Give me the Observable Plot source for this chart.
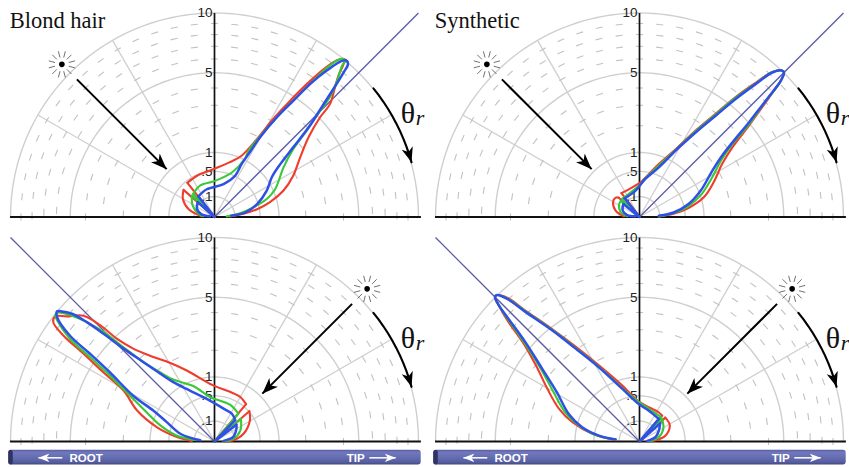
<!DOCTYPE html>
<html>
<head>
<meta charset="utf-8">
<script src="https://cdn.jsdelivr.net/npm/d3@7"></script>
<script src="https://cdn.jsdelivr.net/npm/@observablehq/plot@0.6"></script>
<style>
html,body{margin:0;padding:0;background:#fff;}
#stage{position:relative;width:849px;height:467px;overflow:hidden;}
#stage>div{position:absolute;}
svg{display:block;}
</style>
</head>
<body>
<div id="stage"></div>
<script>
// Radiance lobes, in the chart's plane: [sqrt(radiance)*sin(theta), sqrt(radiance)*cos(theta)]
const blondRedMain=[[.24,.01],[.45,.05],[.66,.12],[.86,.23],[1.07,.41],[1.22,.64],[1.33,.93],[1.46,1.24],[1.64,1.55],[1.79,1.75],[1.86,1.98],[1.92,2.19],[2,2.37],[2.01,2.45],[1.9,2.43],[1.69,2.29],[1.43,2.06],[1.17,1.8],[.91,1.52],[.66,1.21],[.42,.95],[.24,.85],[-.02,.74],[-.27,.64],[-.42,.53]];
const blondRedLobe=[[-.48,.42],[-.49,.28],[-.4,.12],[-.2,.01]];
const blondGreenMain=[[.19,.01],[.4,.06],[.6,.15],[.81,.28],[.94,.43],[1.07,.77],[1.22,1.05],[1.43,1.34],[1.64,1.65],[1.79,1.86],[1.9,2.11],[1.98,2.35],[2.04,2.43],[1.95,2.45],[1.79,2.35],[1.53,2.11],[1.28,1.86],[1.02,1.6],[.76,1.31],[.53,1.03],[.47,.9],[.27,.69],[.01,.56],[-.22,.49],[-.33,.36]];
const blondGreenLobe=[[-.35,.33],[-.34,.18],[-.25,.05],[-.17,.01]];
const blondBlueMain=[[.26,.02],[.48,.07],[.66,.2],[.81,.41],[.89,.62],[1.02,.82],[1.22,1.08],[1.46,1.39],[1.66,1.7],[1.84,1.98],[2,2.24],[2.07,2.37],[2.04,2.43],[1.95,2.41],[1.74,2.27],[1.48,2.06],[1.22,1.8],[.97,1.55],[.71,1.24],[.53,.98],[.42,.82],[.32,.64],[.14,.51],[-.12,.43],[-.25,.32]];
const blondBlueLobe=[[-.26,.23],[-.27,.12],[-.2,.04],[-.07,.01]];

const synthRedMain=[[.3,.01],[.53,.05],[.76,.14],[1,.31],[1.15,.54],[1.28,.82],[1.44,1.08],[1.7,1.42],[1.9,1.7],[2.08,1.95],[2.19,2.11],[2.24,2.24],[2.21,2.27],[2.06,2.25],[1.8,2.08],[1.49,1.86],[1.18,1.6],[.87,1.34],[.56,1.05],[.3,.82],[.09,.61],[.02,.54],[-.11,.46],[-.28,.37]];
const synthRedLobe=[[-.32,.3],[-.37,.3],[-.41,.23],[-.37,.1],[-.24,.01]];
const synthGreenMain=[[.3,.01],[.53,.06],[.76,.17],[.96,.35],[1.13,.62],[1.26,.87],[1.44,1.13],[1.7,1.44],[1.9,1.72],[2.08,1.955],[2.19,2.11],[2.24,2.24],[2.21,2.27],[2.06,2.25],[1.8,2.07],[1.49,1.85],[1.18,1.59],[.87,1.33],[.56,1.04],[.3,.8],[.09,.6],[.02,.51],[-.14,.38],[-.27,.28]];
const synthGreenLobe=[[-.29,.25],[-.32,.18],[-.29,.07],[-.19,.01]];
const synthBlueMain=[[.3,.02],[.53,.07],[.76,.2],[.95,.41],[1.13,.72],[1.28,.95],[1.46,1.18],[1.7,1.47],[1.9,1.73],[2.08,1.96],[2.19,2.11],[2.24,2.24],[2.21,2.27],[2.06,2.24],[1.8,2.06],[1.49,1.83],[1.18,1.57],[.87,1.31],[.56,1.03],[.3,.77],[.09,.59],[-.06,.41],[-.23,.29]];
const synthBlueLobe=[[-.25,.2],[-.26,.1],[-.19,.03],[-.06,.01]];

const blondLowRedMain=[[-.35,.01],[-.58,.07],[-.89,.22],[-1.2,.48],[-1.41,.79],[-1.72,1.07],[-2.03,1.36],[-2.34,1.64],[-2.5,1.85],[-2.47,1.94],[-2.29,1.94],[-2.03,1.95],[-1.77,1.8],[-1.51,1.59],[-1.26,1.44],[-1,1.33],[-.74,1.24],[-.43,1.1],[-.02,.87],[.24,.77],[.4,.69],[.49,.58]];
const blondLowRedLobe=[[.54,.47],[.55,.33],[.45,.12],[.29,.02],[.14,0]];
const blondLowGreenMain=[[-.27,.02],[-.58,.09],[-.84,.25],[-1.05,.45],[-1.31,.71],[-1.62,1.02],[-1.93,1.31],[-2.24,1.59],[-2.44,1.88],[-2.47,1.96],[-2.42,2],[-2.21,1.95],[-1.98,1.85],[-1.72,1.7],[-1.41,1.46],[-1.1,1.23],[-.84,1.07],[-.64,.96],[-.33,.86],[-.07,.69],[.24,.57],[.37,.43]];
const blondLowGreenLobe=[[.41,.35],[.4,.17],[.29,.04],[.14,0]];
const blondLowBlueMain=[[-.22,.02],[-.38,.06],[-.53,.12],[-.74,.3],[-.95,.48],[-1.26,.71],[-1.62,1.07],[-1.93,1.36],[-2.24,1.64],[-2.44,1.93],[-2.44,2.02],[-2.39,2.02],[-2.21,1.98],[-1.98,1.85],[-1.72,1.67],[-1.41,1.44],[-1.1,1.23],[-.84,1.05],[-.64,.92],[-.38,.79],[-.12,.66],[.14,.51],[.27,.43],[.32,.33]];
const blondLowBlueLobe=[[.34,.26],[.34,.2],[.29,.07],[.14,.01]];

const synthLowRedMain=[[-.37,.02],[-.73,.12],[-1.04,.3],[-1.25,.51],[-1.43,.82],[-1.59,1.15],[-1.79,1.51],[-2.05,1.88],[-2.18,2.11],[-2.24,2.24],[-2.21,2.27],[-2.05,2.23],[-1.77,2.03],[-1.35,1.74],[-.99,1.47],[-.63,1.18],[-.27,.87],[-.01,.62],[.3,.45],[.35,.4]];
const synthLowRedLobe=[[.4,.37],[.47,.25],[.4,.09],[.25,.02],[.12,0]];
const synthLowGreenMain=[[-.37,.03],[-.68,.1],[-.94,.25],[-1.15,.45],[-1.33,.76],[-1.53,1.13],[-1.77,1.51],[-2.03,1.88],[-2.18,2.11],[-2.24,2.24],[-2.21,2.27],[-2.05,2.22],[-1.77,2.02],[-1.35,1.73],[-.99,1.45],[-.63,1.16],[-.27,.83],[-.01,.61],[.14,.51],[.33,.38]];
const synthLowGreenLobe=[[.35,.35],[.37,.2],[.3,.07],[.14,0]];
const synthLowBlueMain=[[-.37,.03],[-.63,.09],[-.89,.22],[-1.1,.43],[-1.28,.76],[-1.51,1.13],[-1.77,1.54],[-2.03,1.9],[-2.18,2.11],[-2.24,2.24],[-2.21,2.27],[-2.05,2.21],[-1.77,2.01],[-1.35,1.72],[-.99,1.44],[-.63,1.15],[-.27,.82],[-.01,.58],[.14,.48],[.3,.35]];
const synthLowBlueLobe=[[.32,.28],[.3,.17],[.25,.07],[.12,.01]];

// Axis values
const ringValues=[10,5,1,.5,.1];
const ringLabels=["10","5","1",".5",".1"];
const spokeAngles=[-60,-30,30,60];
const dashValues=[9,8,7,6,4,3,2];
const dashSteps=[6,6.4,6.8,7.3,9,10.2,12.6];
const lobeColors=["#f03c2c","#38c838","#2f50e4"];
const titles=["Blond hair","Synthetic","",""];
const tipLabels=["ROOT","TIP"];

const unit=64.5; // pixels per unit of sqrt(radiance)
const polar=(deg,v)=>{const r=Math.sqrt(v),a=deg*Math.PI/180;return [r*Math.sin(a),r*Math.cos(a)];};
const arc=(a0,a1,v,s)=>d3.range(a0,a1+s/2,s).map(a=>polar(a,v));
const arcDeg=d3.range(-90,90.5,2);
const X=d=>d[0],Y=d=>d[1];

function headMarker(len){
  return (color)=>{
    const m=d3.create("svg:marker")
      .attr("viewBox","-6 -5 12 10").attr("refX",6).attr("refY",0)
      .attr("markerUnits","userSpaceOnUse")
      .attr("markerWidth",len).attr("markerHeight",len*10/12)
      .attr("orient","auto");
    m.append("path").attr("fill",color).attr("stroke","none").attr("d","M6,0L-6,-4.6L-2.6,0L-6,4.6Z");
    return m.node();
  };
}

function panel(i,width,height,cy,withBar,lightAngle,lobes){
  const cx=214;
  const xDomain=[-cx/unit,(width-cx)/unit];
  const yDomain=[-(height-cy)/unit,cy/unit];
  const gid="barGrad"+i;
  const marks=[];
  // rings, spokes, dashes
  for(const v of ringValues)
    marks.push(Plot.line(arcDeg.map(a=>polar(a,v)),{x:X,y:Y,stroke:"#cfcfcf",strokeWidth:1.4,curve:"linear"}));
  marks.push(Plot.link(spokeAngles,{x1:0,y1:0,x2:a=>polar(a,10)[0],y2:a=>polar(a,10)[1],stroke:"#cfcfcf",strokeWidth:1.3}));
  const dashes=[];
  dashValues.forEach((v,k)=>{
    const st=dashSteps[k];
    for(const sgn of [1,-1]) for(let a=(sgn>0?0:st);a<=90.01;a+=st){
      const ang=sgn*a,rad=ang*Math.PI/180,d=.055;
      const p=polar(ang,v);
      dashes.push([p[0]-d*Math.cos(rad),p[1]+d*Math.sin(rad),p[0]+d*Math.cos(rad),p[1]-d*Math.sin(rad)]);
    }
  });
  marks.push(Plot.link(dashes,{x1:d=>d[0],y1:d=>d[1],x2:d=>d[2],y2:d=>d[3],stroke:"#c2c2c2",strokeWidth:1.1}));
  // specular direction
  marks.push(Plot.link([lightAngle],{x1:0,y1:0,x2:a=>-polar(a,20)[0],y2:a=>polar(a,20)[1],stroke:"#5a5aa8",strokeWidth:1.25}));
  // axes
  marks.push(Plot.link([0],{x1:0,y1:0,x2:0,y2:Math.sqrt(10),stroke:"#111",strokeWidth:1.7}));
  marks.push(Plot.link([0],{x1:-3.17,y1:0,x2:3.2,y2:0,stroke:"#111",strokeWidth:2}));
  // tick labels
  marks.push(Plot.text(ringValues,{x:0,y:v=>Math.sqrt(v),text:(v,j)=>ringLabels[j],dx:-2,textAnchor:"end",lineAnchor:"middle",fontSize:13.5,fontFamily:"Liberation Sans",fill:"#222"}));
  // title
  if(titles[i]) marks.push(Plot.text([titles[i]],{x:-3.175,y:2.925,text:d=>d,textAnchor:"start",lineAnchor:"bottom",fontSize:22.5,fontFamily:"Liberation Serif",fill:"#111"}));
  // incoming light arrow
  const a0=polar(lightAngle,9.1),a1=polar(lightAngle,1.1);
  marks.push(Plot.link([0],{x1:a0[0],y1:a0[1],x2:a1[0],y2:a1[1],stroke:"#000",strokeWidth:2,markerEnd:headMarker(16)}));
  // sun
  const sun=polar(lightAngle,11.2);
  const rays=d3.range(15,360,30).map(a=>{const s=Math.sin(a*Math.PI/180),c=Math.cos(a*Math.PI/180);return [sun[0]+.11*s,sun[1]+.11*c,sun[0]+.21*s,sun[1]+.21*c];});
  marks.push(Plot.link(rays,{x1:d=>d[0],y1:d=>d[1],x2:d=>d[2],y2:d=>d[3],stroke:"#333",strokeWidth:.7}));
  marks.push(Plot.dot([sun],{x:X,y:Y,r:2.8,fill:"#000"}));
  // theta arc
  marks.push(Plot.line(arc(51,74.5,10.05,2.35),{x:X,y:Y,stroke:"#000",strokeWidth:2.1,curve:"linear",markerEnd:headMarker(15)}));
  marks.push(Plot.text(["θ"],{x:3,y:1.45,text:d=>d,textAnchor:"middle",lineAnchor:"bottom",fontSize:30,fontFamily:"Liberation Serif",fill:"#111"}));
  marks.push(Plot.text(["r"],{x:3.12,y:1.42,text:d=>d,textAnchor:"start",lineAnchor:"bottom",fontSize:22,fontStyle:"italic",fontFamily:"Liberation Serif",fill:"#111"}));
  // lobes
  lobes.forEach(([main,lobe],k)=>{
    const w=k===2?2.5:2.1,col=lobeColors[k];
    marks.push(Plot.line(main,{x:X,y:Y,stroke:col,strokeWidth:w,curve:"catmull-rom"}));
    marks.push(Plot.line([main[main.length-1],[0,0],lobe[0]],{x:X,y:Y,stroke:col,strokeWidth:w,curve:"linear"}));
    marks.push(Plot.line(lobe,{x:X,y:Y,stroke:col,strokeWidth:w,curve:"catmull-rom"}));
  });
  // root-tip bar
  if(withBar){
    marks.push(()=>{
      const defs=d3.create("svg:defs");
      const g=defs.append("linearGradient").attr("id",gid).attr("x1",0).attr("y1",0).attr("x2",0).attr("y2",1);
      [[0,"#565ca0"],[.18,"#7178bd"],[.55,"#646cb0"],[.85,"#555c9f"],[1,"#41477c"]].forEach(([o,c])=>g.append("stop").attr("offset",o).attr("stop-color",c));
      return defs.node();
    });
    marks.push(Plot.rect([0],{x1:-3.19,x2:3.205,y1:-.135,y2:-.365,fill:`url(#${gid})`,rx:3}));
    marks.push(Plot.rect([0],{x1:-3.19,x2:-3.12,y1:-.135,y2:-.365,fill:"#2f3462",rx:2.5}));
    marks.push(Plot.link([0],{x1:-2.36,y1:-.253,x2:-2.73,y2:-.253,stroke:"#fff",strokeWidth:1.5,markerEnd:headMarker(11)}));
    marks.push(Plot.link([0],{x1:2.4,y1:-.253,x2:2.81,y2:-.253,stroke:"#fff",strokeWidth:1.5,markerEnd:headMarker(11)}));
    marks.push(Plot.text(tipLabels,{x:(d,j)=>[-1.99,2.19][j],y:-.253,text:d=>d,textAnchor:"middle",lineAnchor:"middle",fontSize:11.5,fontWeight:"bold",fontFamily:"Liberation Sans",fill:"#fff"}));
  }
  return Plot.plot({
    width,height,margin:0,
    x:{domain:xDomain,range:[0,width],axis:null},
    y:{domain:yDomain,range:[height,0],axis:null},
    style:{background:"transparent",overflow:"visible"},
    marks
  });
}

const panels=[
  {l:0,t:0,w:425,h:225,cy:216.5,bar:false,light:-45,lobes:[[blondRedMain,blondRedLobe],[blondGreenMain,blondGreenLobe],[blondBlueMain,blondBlueLobe]]},
  {l:425,t:0,w:424,h:225,cy:216.5,bar:false,light:-45,lobes:[[synthRedMain,synthRedLobe],[synthGreenMain,synthGreenLobe],[synthBlueMain,synthBlueLobe]]},
  {l:0,t:225,w:425,h:242,cy:216,bar:true,light:45,lobes:[[blondLowRedMain,blondLowRedLobe],[blondLowGreenMain,blondLowGreenLobe],[blondLowBlueMain,blondLowBlueLobe]]},
  {l:425,t:225,w:424,h:242,cy:216,bar:true,light:45,lobes:[[synthLowRedMain,synthLowRedLobe],[synthLowGreenMain,synthLowGreenLobe],[synthLowBlueMain,synthLowBlueLobe]]}
];
const stage=document.getElementById("stage");
panels.forEach((p,i)=>{
  const d=document.createElement("div");
  d.style.left=p.l+"px";d.style.top=p.t+"px";
  d.appendChild(panel(i,p.w,p.h,p.cy,p.bar,p.light,p.lobes));
  stage.appendChild(d);
});
</script>
</body>
</html>
